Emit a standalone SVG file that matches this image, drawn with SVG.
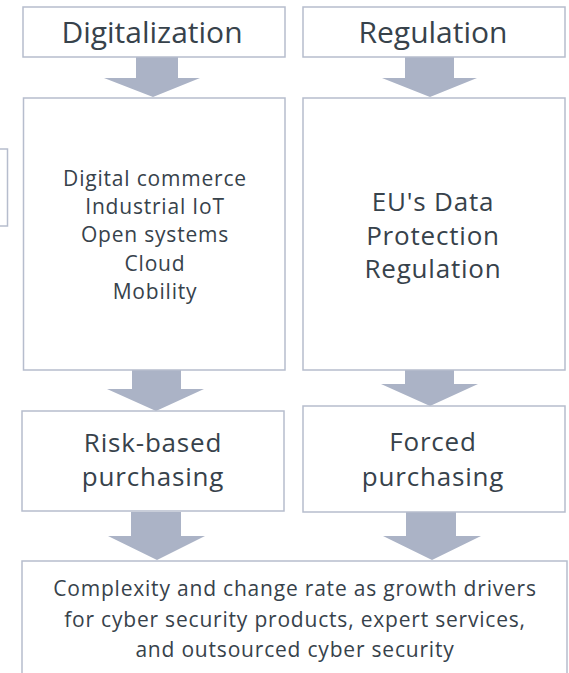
<svg xmlns="http://www.w3.org/2000/svg" width="569" height="673" viewBox="0 0 569 673">
<style>
.box{fill:#ffffff;stroke:#b6bdcd;stroke-width:1.5}
.arr{fill:#abb3c6}
text{font-family:"Open Sans","Liberation Sans",sans-serif;fill:#37424b;text-anchor:middle}
.t30{font-size:30px}
.t26{font-size:26px;letter-spacing:0.8px}
.t21{font-size:21px;letter-spacing:0.8px}
</style>
<rect width="569" height="673" fill="#ffffff"/>
<g id="stub"><rect class="box" x="-10" y="149" width="17.5" height="77"/></g>
<g id="connectors">
<polygon class="arr" points="136,57 178,57 178,78 200,78 153,97 104,78 136,78"/>
<polygon class="arr" points="405,57 454,57 454,78 477,78 430,97 382,78 405,78"/>
<polygon class="arr" points="132,370 181,370 181,389 204,389 156,411 107,389 132,389"/>
<polygon class="arr" points="405,370 454,370 454,384 478,384 430,406 381,384 405,384"/>
<polygon class="arr" points="131,512 181,512 181,536 205,536 157,560 108,536 131,536"/>
<polygon class="arr" points="406,512 456,512 456,536 481,536 432,560 383,536 406,536"/>
</g>
<g id="digitalization"><rect class="box" x="23" y="7" width="262" height="50"/><text class="t30" x="152" y="43">Digitalization</text></g>
<g id="regulation"><rect class="box" x="303" y="7" width="262" height="50"/><text class="t30" x="433" y="43">Regulation</text></g>
<g id="drivers"><rect class="box" x="23.5" y="98" width="261.5" height="272"/>
<text class="t21" x="155" y="185.5">Digital commerce</text>
<text class="t21" x="155" y="214">Industrial IoT</text>
<text class="t21" x="155" y="242">Open systems</text>
<text class="t21" x="155" y="270.5">Cloud</text>
<text class="t21" x="155" y="299">Mobility</text></g>
<g id="gdpr"><rect class="box" x="303" y="98" width="262" height="272"/>
<text class="t26" x="433" y="210.5">EU's Data</text>
<text class="t26" x="433" y="244.5">Protection</text>
<text class="t26" x="433" y="278">Regulation</text></g>
<g id="risk"><rect class="box" x="22" y="411" width="262" height="100"/>
<text class="t26" x="153" y="452">Risk-based</text>
<text class="t26" x="153" y="486">purchasing</text></g>
<g id="forced"><rect class="box" x="303" y="406" width="262" height="106"/>
<text class="t26" x="433" y="451">Forced</text>
<text class="t26" x="433" y="486">purchasing</text></g>
<g id="growth"><rect class="box" x="22" y="561" width="545" height="130"/>
<text class="t21" x="295" y="596">Complexity and change rate as growth drivers</text>
<text class="t21" x="295" y="626.5">for cyber security products, expert services,</text>
<text class="t21" x="295" y="656.5">and outsourced cyber security</text></g>
</svg>
